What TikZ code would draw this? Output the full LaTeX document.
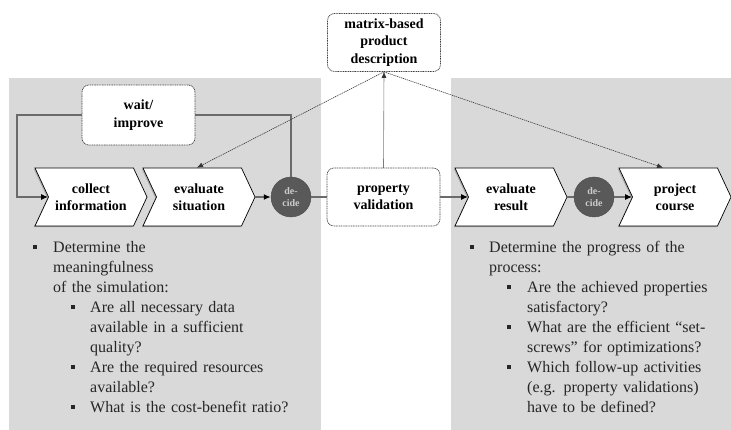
\documentclass[tikz,border=0pt]{standalone}
\usepackage{fontspec}
\setmainfont{Liberation Serif}
\usepackage{xcolor}
\usetikzlibrary{shapes.symbols,arrows.meta,shadows}
\definecolor{panelgray}{gray}{0.85}
\definecolor{decidegray}{gray}{0.35}
\definecolor{linegray}{gray}{0.42}
\newcommand{\sqbullet}{\raisebox{3pt}{\rule{4pt}{4pt}}}
\newenvironment{notelist}[2]{%
  \begin{list}{\sqbullet}{\setlength{\leftmargin}{#1}\setlength{\labelsep}{#2}%
    \setlength{\labelwidth}{4pt}\setlength{\itemsep}{0pt}\setlength{\parsep}{0pt}%
    \setlength{\topsep}{0pt}\setlength{\partopsep}{0pt}\setlength{\itemindent}{0pt}}}%
  {\end{list}}

\begin{document}
\begin{tikzpicture}[x=1pt, y=-1pt,
  chevron/.style={signal, signal from=west, signal to=east, signal pointer angle=130,
                  draw=black, fill=white, line width=0.7pt, minimum width=112pt,
                  minimum height=58pt, inner sep=0pt, align=center,
                  drop shadow={shadow xshift=-1.2pt, shadow yshift=-1.2pt, opacity=0.5},
                  font=\fontsize{14}{17.5}\selectfont\bfseries},
  infobox/.style={rectangle, rounded corners=7pt, draw=black!75, line width=0.7pt,
                  dash pattern=on 1pt off 0.7pt, fill=white, minimum width=113pt,
                  minimum height=58pt, inner sep=0pt, align=center,
                  font=\fontsize{14}{17.5}\selectfont\bfseries},
  decide/.style={circle, fill=decidegray, draw=black!70, minimum size=40pt, inner sep=0pt,
                 align=center, text=gray!40, font=\fontsize{10}{12}\selectfont\bfseries},
  flow/.style={line width=1.4pt, draw=linegray},
  flowarr/.style={flow, -{Latex[length=7pt,width=6pt,black]}},
  infoarr/.style={-{Latex[length=6pt,width=5pt]}, draw=black!80,
                  dash pattern=on 1.2pt off 0.8pt, line width=0.6pt},
  notes/.style={anchor=north west, align=left, inner sep=0pt, text=black!85,
                font=\fontsize{16}{20}\selectfont}
]
\useasboundingbox (0,0) rectangle (731,430);

% Panels
\fill[panelgray] (9,78) rectangle (321,430);
\fill[panelgray] (451,78) rectangle (731,430);

% Info boxes
\node[infobox] (matrix) at (384,42.5) {matrix-based\\product\\description};
\node[infobox, minimum height=60pt] (wait) at (138.5,115) {wait/\\improve};
\node[infobox] (property) at (383.5,197) {property\\validation};

% Process steps
\node[chevron] (collect) at (91,197) {collect\\information};
\node[chevron] (evalsit) at (199,197) {evaluate\\situation};
\node[decide] (decide1) at (291,197) {de-\\cide};
\node[chevron] (evalres) at (511,197) {evaluate\\result};
\node[decide] (decide2) at (594,197) {de-\\cide};
\node[chevron] (course) at (675,197) {project\\course};

% Loop back
\coordinate (loopcorner) at (17,115);
\draw[flowarr] (wait.west) -- (loopcorner) |- (collect.west);
\draw[flow] (wait.east) -| (decide1.north);

% Flow
\draw[flowarr] (evalsit.east) -- (decide1.west);
\draw[flow] (decide1.east) -- (property.west);
\draw[flowarr] (property.east) -- (evalres.west);
\draw[flow] (evalres.east) -- (decide2.west);
\draw[flowarr] (decide2.east) -- (course.west);

% Product description links
\draw[infoarr] (matrix.south) -- ([xshift=-2pt]evalsit.north);
\draw[infoarr] (matrix.south) -- ([xshift=-12pt]course.north);
\draw[infoarr] (property.north) -- (matrix.south);

% Notes
\node[notes, text width=285pt] (notesleft) at (33,232) {%
  \begin{notelist}{20pt}{16pt}
  \item Determine the\\meaningfulness\\of the simulation:
    \begin{notelist}{37pt}{15pt}
    \item Are all necessary data\\available in a sufficient\\quality?
    \item Are the required resources\\available?
    \item What is the cost-benefit ratio?
    \end{notelist}
  \end{notelist}};
\node[notes, text width=255pt] (notesright) at (470,232) {%
  \begin{notelist}{19pt}{15pt}
  \item Determine the progress of the\\process:
    \begin{notelist}{38pt}{16pt}
    \item Are the achieved properties\\satisfactory?
    \item What are the efficient ``set-\\screws'' for optimizations?
    \item Which follow-up activities\\(e.g. property validations)\\have to be defined?
    \end{notelist}
  \end{notelist}};
\end{tikzpicture}
\end{document}
